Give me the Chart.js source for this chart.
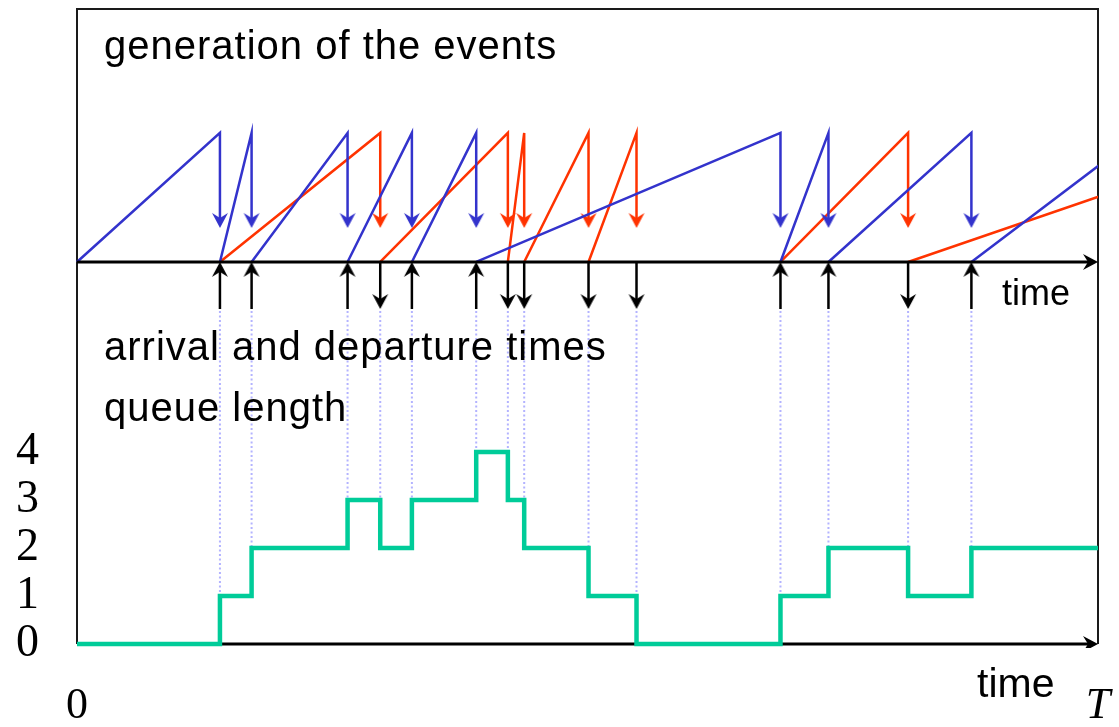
<!DOCTYPE html>
<html lang="en">
<head>
    <meta charset="UTF-8">
    <title>Queue simulation - events and queue length</title>
    <script src="https://cdn.jsdelivr.net/npm/chart.js"></script>
    <style>
        body {
            margin: 0;
            padding: 0;
            background-color: #fff;
        }
        canvas {
            display: block;
        }
    </style>
</head>
<body>
<canvas id="queueChart" width="1119" height="727"></canvas>

<script>
    // time runs from 0 to T
    const T = 100;
    const timeTicks = [0, T];
    const timeLabels = ['0', 'T'];
    const queueTicks = [0, 1, 2, 3, 4];

    // arrival times (the last one falls after T and is clipped)
    const arrivals = [14.0, 17.1, 26.5, 32.8, 39.1, 68.9, 73.6, 87.6, 104.3];
    // service start and departure times (the last departure falls after T)
    const serviceStarts = [14.0, 29.7, 42.2, 43.8, 50.1, 68.9, 81.4];
    const departures = [29.7, 42.2, 43.8, 50.1, 54.8, 81.4, 118.3];

    // every event inside [0, T] and the queue length after it
    const eventTimes = [14.0, 17.1, 26.5, 29.7, 32.8, 39.1, 42.2, 43.8, 50.1, 54.8, 68.9, 73.6, 81.4, 87.6];
    const queueLength = [0, 1, 2, 3, 2, 3, 4, 3, 2, 1, 0, 1, 2, 1, 2];

    // levels on the event axis: 0 = time line, 1 = top of the saw teeth
    const COL_TIP = 0.264;
    const BLACK_LOW = -0.364;
    const HEAD_GAP = 0.06;
    const DOT_TOP = 6.94;     // in queue units
    const AXIS_GAP = 0.8;

    const BLUE = '#3333cc';
    const RED = '#ff3300';
    const GREEN = '#00cc99';
    const DOTS = '#b3b3ff';

    // keep lines on the frame visible, cut everything after T
    const CLIP = {left: 3, top: 3, right: 0, bottom: 4};

    function arrowHead(color) {
        const len = 15, half = 8, notch = 5;
        const c = document.createElement('canvas');
        c.width = half * 2 + 2;
        c.height = len * 2 + 2;
        const g = c.getContext('2d');
        const cx = c.width / 2, cy = c.height / 2;
        g.fillStyle = color;
        g.beginPath();
        g.moveTo(cx, cy);
        g.lineTo(cx - half, cy - len);
        g.lineTo(cx, cy - len + notch);
        g.lineTo(cx + half, cy - len);
        g.closePath();
        g.fill();
        return c;
    }

    // rising line from start to end, then the falling arrow at end
    function sawTeeth(starts, ends) {
        const pts = [];
        starts.forEach((s, i) => {
            pts.push({x: s, y: 0}, {x: ends[i], y: 1}, {x: ends[i], y: COL_TIP + HEAD_GAP}, {x: ends[i], y: null});
        });
        return pts;
    }

    function stems(times, from, to) {
        const pts = [];
        times.forEach(t => pts.push({x: t, y: from}, {x: t, y: to}, {x: t, y: null}));
        return pts;
    }

    const prevArrivals = [0].concat(arrivals.slice(0, -1));
    const insideArrivals = arrivals.filter(t => t <= T);
    const insideDepartures = departures.filter(t => t <= T);

    const queueData = [{x: 0, y: queueLength[0]}]
        .concat(eventTimes.map((t, i) => ({x: t, y: queueLength[i + 1]})))
        .concat([{x: T, y: queueLength[queueLength.length - 1]}]);

    const dotData = [];
    eventTimes.forEach((t, i) => {
        dotData.push({x: t, y: DOT_TOP}, {x: t, y: Math.max(queueLength[i], queueLength[i + 1])}, {x: t, y: null});
    });

    function lineSet(data, color, width, axis, extra) {
        return Object.assign({
            data: data,
            yAxisID: axis,
            borderColor: color,
            borderWidth: width,
            pointRadius: 0,
            tension: 0,
            fill: false,
            clip: CLIP
        }, extra || {});
    }

    function headSet(data, color, rotation, axis) {
        return {
            data: data,
            yAxisID: axis,
            showLine: false,
            pointStyle: arrowHead(color),
            pointRotation: rotation,
            pointRadius: 6,
            borderWidth: 0,
            clip: CLIP
        };
    }

    // no extra room for tick labels, the chart area is set by the padding
    function noPadding(s) {
        s.paddingTop = 0;
        s.paddingBottom = 0;
        s.paddingLeft = 0;
        s.paddingRight = 0;
    }

    const framePlugin = {
        id: 'frame',
        beforeDatasetsDraw(chart) {
            const {ctx, chartArea: a} = chart;
            ctx.save();
            ctx.strokeStyle = '#1a1a1a';
            ctx.lineWidth = 2;
            ctx.beginPath();
            ctx.moveTo(a.left, a.bottom);
            ctx.lineTo(a.left, a.top);
            ctx.lineTo(a.right, a.top);
            ctx.lineTo(a.right, a.bottom);
            ctx.stroke();
            ctx.restore();
        }
    };

    const textPlugin = {
        id: 'texts',
        afterDatasetsDraw(chart) {
            const ctx = chart.ctx;
            ctx.save();
            ctx.fillStyle = '#000';
            ctx.textBaseline = 'alphabetic';
            ctx.textAlign = 'left';
            ctx.letterSpacing = '1px';
            ctx.font = '40px "Liberation Sans", Arial, sans-serif';
            ctx.fillText('generation of the events', 104, 59);
            ctx.fillText('arrival and departure times', 104, 360);
            ctx.fillText('queue length', 104, 421);
            ctx.letterSpacing = '0px';
            ctx.font = '36px "Liberation Sans", Arial, sans-serif';
            ctx.fillText('time', 1002, 305);
            ctx.font = '41px "Liberation Sans", Arial, sans-serif';
            ctx.fillText('time', 977, 697);
            ctx.restore();
        }
    };

    const serif = '"Liberation Serif", "Times New Roman", serif';

    new Chart(document.getElementById('queueChart'), {
        type: 'line',
        data: {
            datasets: [
                lineSet(queueData, GREEN, 4.5, 'yq', {stepped: true, borderJoinStyle: 'miter'}),
                lineSet([{x: 0, y: 0}, {x: T - AXIS_GAP, y: 0}], '#000', 3, 'yq'),
                headSet([{x: T, y: 0}], '#000', -90, 'yq'),
                lineSet([{x: 0, y: 0}, {x: T - AXIS_GAP, y: 0}], '#000', 3, 'ye'),
                headSet([{x: T, y: 0}], '#000', -90, 'ye'),
                lineSet(stems(insideArrivals, BLACK_LOW, -HEAD_GAP), '#000', 2.5, 'ye'),
                headSet(insideArrivals.map(t => ({x: t, y: 0})), '#000', 180, 'ye'),
                lineSet(stems(insideDepartures, 0, BLACK_LOW + HEAD_GAP), '#000', 2.5, 'ye'),
                headSet(insideDepartures.map(t => ({x: t, y: BLACK_LOW})), '#000', 0, 'ye'),
                lineSet(sawTeeth(prevArrivals, arrivals), BLUE, 2.5, 'ye'),
                headSet(insideArrivals.map(t => ({x: t, y: COL_TIP})), BLUE, 0, 'ye'),
                lineSet(sawTeeth(serviceStarts, departures), RED, 2.5, 'ye'),
                headSet(insideDepartures.map(t => ({x: t, y: COL_TIP})), RED, 0, 'ye'),
                lineSet(dotData, DOTS, 2, 'yq', {borderDash: [2, 2.5]})
            ]
        },
        options: {
            responsive: false,
            animation: false,
            events: [],
            layout: {
                padding: {top: 9, right: 21, bottom: 0, left: 0}
            },
            plugins: {
                legend: {display: false},
                tooltip: {enabled: false}
            },
            scales: {
                x: {
                    type: 'linear',
                    min: 0,
                    max: T,
                    grid: {display: false, drawTicks: false},
                    border: {display: false},
                    afterBuildTicks: s => { s.ticks = timeTicks.map(v => ({value: v})); },
                    afterFit: s => { s.height = 83; noPadding(s); },
                    ticks: {
                        autoSkip: false,
                        maxRotation: 0,
                        padding: 36,
                        color: '#000',
                        callback: (v, i) => timeLabels[i],
                        font: c => ({
                            family: serif,
                            size: 44,
                            style: c.tick && c.tick.value === T ? 'italic' : 'normal'
                        })
                    }
                },
                yq: {
                    type: 'linear',
                    position: 'left',
                    min: 0,
                    max: 13.23,
                    grid: {display: false, drawTicks: false},
                    border: {display: false},
                    afterBuildTicks: s => { s.ticks = queueTicks.map(v => ({value: v})); },
                    afterFit: s => { s.width = 77; noPadding(s); },
                    ticks: {
                        autoSkip: false,
                        padding: 38,
                        color: '#000',
                        font: {family: serif, size: 46}
                    }
                },
                ye: {
                    type: 'linear',
                    display: false,
                    min: -2.96,
                    max: 1.96
                }
            }
        },
        plugins: [framePlugin, textPlugin]
    });
</script>
</body>
</html>
